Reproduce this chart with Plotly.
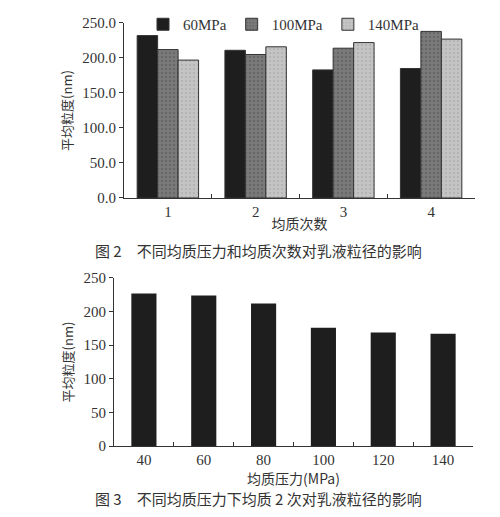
import plotly.graph_objects as go

times = ["1", "2", "3", "4"]
s60 = [232, 211, 183, 185]
s100 = [212, 205, 214, 238]
s140 = [197, 216, 222, 227]
pressures = ["40", "60", "80", "100", "120", "140"]
size2 = [227, 224, 212, 176, 169, 167]

fig = go.Figure()
line = dict(color="#333", width=1)
fig.add_bar(x=times, y=s60, name="60MPa", marker=dict(color="#1e1e1e", line=line), xaxis="x", yaxis="y")
fig.add_bar(x=times, y=s100, name="100MPa", marker=dict(color="#7a7a7a", line=line, pattern=dict(shape=".", fgcolor="#555", size=4, solidity=0.3)), xaxis="x", yaxis="y")
fig.add_bar(x=times, y=s140, name="140MPa", marker=dict(color="#c4c4c4", line=line, pattern=dict(shape=".", fgcolor="#999", size=4, solidity=0.2)), xaxis="x", yaxis="y")
fig.add_bar(x=pressures, y=size2, showlegend=False, marker=dict(color="#1e1e1e", line=dict(width=0)), xaxis="x2", yaxis="y2", width=0.42)

tf = dict(family="Liberation Serif", size=15, color="#333")
cjk = "Noto Sans CJK SC"
ax = dict(showline=True, linecolor="#333", linewidth=1, showgrid=False, zeroline=False, tickfont=tf,
          ticks="outside", ticklen=4, tickcolor="#333", automargin=False)
fig.update_layout(
    width=500, height=517, margin=dict(l=0, r=0, t=0, b=0, autoexpand=False),
    paper_bgcolor="white", plot_bgcolor="white",
    barmode="group", bargap=0.3, bargroupgap=0,
    xaxis=dict(ax, domain=[0.232, 0.934], anchor="y", ticks="inside", tickson="boundaries",
               title=dict(text="均质次数", font=dict(family=cjk, size=14, color="#333"), standoff=0)),
    yaxis=dict(ax, domain=[0.6325, 0.971], anchor="x", range=[0, 250], dtick=50, tickformat=".1f",
               title=dict(text="平均粒度(nm)", font=dict(family=cjk, size=13, color="#333"), standoff=6)),
    xaxis2=dict(ax, domain=[0.212, 0.93], anchor="y2", ticks="inside", tickson="boundaries",
                title=dict(text="均质压力(MPa)", font=dict(family=cjk, size=14, color="#333"), standoff=0)),
    yaxis2=dict(ax, domain=[0.1528, 0.4778], anchor="x2", range=[0, 250], dtick=50,
                title=dict(text="平均粒度(nm)", font=dict(family=cjk, size=13, color="#333"), standoff=6)),
    legend=dict(orientation="h", x=0.27, y=1.0, xanchor="left", yanchor="top", font=tf,
                bgcolor="rgba(0,0,0,0)", itemwidth=30, tracegroupgap=0),
    annotations=[
        dict(text="图 2　不同均质压力和均质次数对乳液粒径的影响", x=0.5, y=1-242/517, xref="paper", yref="paper",
             showarrow=False, font=dict(family=cjk, size=15, color="#333")),
        dict(text="图 3　不同均质压力下均质 2 次对乳液粒径的影响", x=0.5, y=1-503/517, xref="paper", yref="paper",
             showarrow=False, font=dict(family=cjk, size=15, color="#333")),
    ],
)
fig.write_html("out.html")
